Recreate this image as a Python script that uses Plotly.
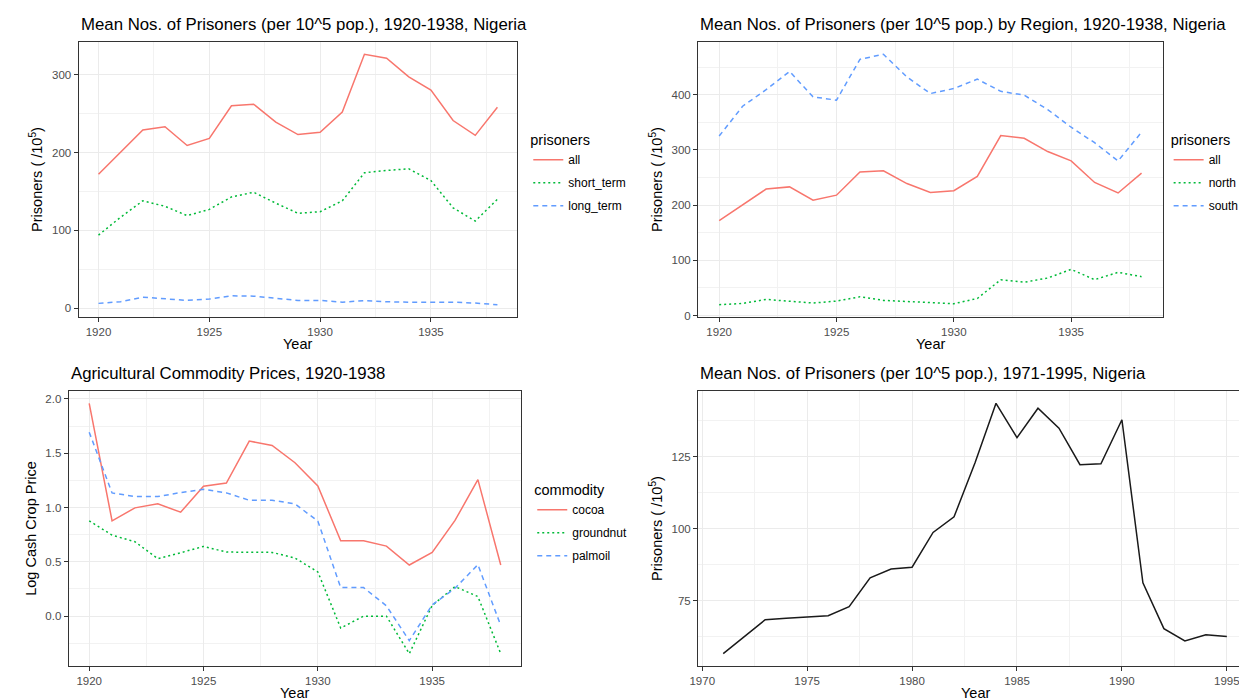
import plotly.graph_objects as go

# ---------------------------------------------------------------------------
# data
years_a = list(range(1920, 1939))

all_pris = [172, 200, 229, 233, 209, 218, 260, 262, 239, 223, 226, 252,
            326, 321, 297, 280, 241, 222, 258]
short_term = [94, 117, 138, 131, 119, 127, 143, 149, 135, 122, 124, 138,
              174, 177, 179, 164, 129, 112, 140]
long_term = [6.4, 8.5, 14.4, 12.7, 10.2, 11.9, 16.1, 15.7, 13.2, 10.2, 10.2, 8.0,
             10.0, 8.5, 8.0, 8.0, 8.0, 6.8, 4.7]

north = [19.7, 22, 29.3, 25.7, 22.7, 26.3, 34, 27.5, 25.7, 23.3, 21.5, 31,
         65, 60.4, 68, 83.7, 65, 78.3, 70.5]
south = [325, 379, 409, 442, 396, 390, 464, 473, 432, 402, 411, 428,
         406, 399, 373, 341, 313, 280, 332]

cocoa = [1.96, 0.878, 0.997, 1.034, 0.957, 1.196, 1.226, 1.612, 1.572, 1.413, 1.199,
         0.694, 0.694, 0.645, 0.471, 0.587, 0.881, 1.257, 0.471]
groundnut = [0.878, 0.746, 0.685, 0.529, 0.584, 0.642, 0.59, 0.59, 0.587, 0.535, 0.407,
             -0.11, 0.0, 0.0, -0.346, 0.098, 0.272, 0.18, -0.346]
palmoil = [1.694, 1.135, 1.101, 1.101, 1.138, 1.168, 1.135, 1.067, 1.067, 1.034, 0.875,
           0.263, 0.263, 0.095, -0.226, 0.104, 0.257, 0.474, -0.086]

years_b = list(range(1971, 1996))
pris_late = [56.6, 62.6, 68.4, 68.9, 69.4, 69.8, 72.9, 82.9, 86.0, 86.6, 98.7, 104.1,
             122.9, 143.5, 131.6, 141.8, 134.9, 122.2, 122.5, 137.8, 81.2, 65.3,
             61.0, 63.2, 62.6]

# ---------------------------------------------------------------------------
W, H = 1247, 700
FONT = "Liberation Sans"
RED, GREEN, BLUE = "#F8766D", "#00BA38", "#619CFF"
DOT = "2px,3px"
DASH = "5px,4px"


def px_x(p):
    return p / W


def px_y(p):
    return 1 - p / H


def expand(vals, frac=0.05):
    lo, hi = min(vals), max(vals)
    pad = (hi - lo) * frac
    return [lo - pad, hi + pad]


def axis_style(anchor, dom, rng, tickvals, minor_dtick, minor_tick0, title=None, fmt=None):
    d = dict(anchor=anchor, domain=dom, range=rng, tickmode="array", tickvals=tickvals,
             ticks="outside", ticklen=4, tickwidth=1, tickcolor="#333333",
             showline=True, mirror=True, linecolor="#333333", linewidth=1,
             showgrid=True, gridcolor="#EBEBEB", gridwidth=1, zeroline=False,
             tickfont=dict(family=FONT, size=11.5, color="#4D4D4D"),
             minor=dict(showgrid=True, gridcolor="#F2F2F2", gridwidth=0.6,
                        tick0=minor_tick0, dtick=minor_dtick, ticks=""))
    if fmt:
        d["tickformat"] = fmt
    if title:
        d["title"] = dict(text=title, font=dict(family=FONT, size=14.5, color="black"),
                          standoff=5)
    return d


fig = go.Figure()

# panel 1
for name, vals, col, dash in [("all", all_pris, RED, "solid"),
                              ("short_term", short_term, GREEN, DOT),
                              ("long_term", long_term, BLUE, DASH)]:
    fig.add_trace(go.Scatter(x=years_a, y=vals, mode="lines", name=name,
                             line=dict(color=col, width=1.5, dash=dash),
                             xaxis="x", yaxis="y", legend="legend",
                             legendgroup="a_" + name))

# panel 2
for name, vals, col, dash in [("all", all_pris, RED, "solid"),
                              ("north", north, GREEN, DOT),
                              ("south", south, BLUE, DASH)]:
    fig.add_trace(go.Scatter(x=years_a, y=vals, mode="lines", name=name,
                             line=dict(color=col, width=1.5, dash=dash),
                             xaxis="x2", yaxis="y2", legend="legend2",
                             legendgroup="b_" + name))

# panel 3
for name, vals, col, dash in [("cocoa", cocoa, RED, "solid"),
                              ("groundnut", groundnut, GREEN, DOT),
                              ("palmoil", palmoil, BLUE, DASH)]:
    fig.add_trace(go.Scatter(x=years_a, y=vals, mode="lines", name=name,
                             line=dict(color=col, width=1.5, dash=dash),
                             xaxis="x3", yaxis="y3", legend="legend3",
                             legendgroup="c_" + name))

# panel 4
fig.add_trace(go.Scatter(x=years_b, y=pris_late, mode="lines", showlegend=False,
                         line=dict(color="#1A1A1A", width=1.5),
                         xaxis="x4", yaxis="y4"))

ylab = "Prisoners ( /10<sup>5</sup>)"
xr_a = [1919.1, 1938.9]
xr_b = [1969.8, 1996.2]
top_dom = [px_y(311), px_y(34)]
bot_dom = [px_y(662), px_y(385)]
ticks_a = [1920, 1925, 1930, 1935]
doms = {"x": (62, 504), "x2": (686, 1154), "x3": (52, 508), "x4": (686, 1244)}

fig.update_layout(
    width=W, height=H, margin=dict(l=0, r=0, t=0, b=0),
    paper_bgcolor="white", plot_bgcolor="white",
    font=dict(family=FONT, color="black"),
    xaxis=axis_style("y", [px_x(62), px_x(504)], xr_a, ticks_a, 2.5, 1920),
    yaxis=axis_style("x", top_dom, expand(all_pris + short_term + long_term), [0, 100, 200, 300],
                     50, 0, ylab),
    xaxis2=axis_style("y2", [px_x(686), px_x(1154)], xr_a, ticks_a, 2.5, 1920),
    yaxis2=axis_style("x2", top_dom, expand(all_pris + north + south), [0, 100, 200, 300, 400],
                      50, 0, ylab),
    xaxis3=axis_style("y3", [px_x(52), px_x(508)], xr_a, ticks_a, 2.5, 1920),
    yaxis3=axis_style("x3", bot_dom, expand(cocoa + groundnut + palmoil), [0, 0.5, 1.0, 1.5, 2.0],
                      0.25, 0, "Log Cash Crop Price", fmt=".1f"),
    xaxis4=axis_style("y4", [px_x(686), px_x(1244)], xr_b, [1970, 1975, 1980, 1985, 1990, 1995],
                      2.5, 1970),
    yaxis4=axis_style("x4", bot_dom, expand(pris_late), [75, 100, 125], 12.5, 62.5, ylab),
)

leg_common = dict(xanchor="left", yanchor="top", bgcolor="rgba(0,0,0,0)",
                  font=dict(family=FONT, size=12, color="black"),
                  tracegroupgap=4, itemwidth=30)
leg_title_font = dict(family=FONT, size=14.5, color="black")
fig.update_layout(
    legend=dict(x=px_x(515), y=px_y(119),
                title=dict(text="prisoners", font=leg_title_font), **leg_common),
    legend2=dict(x=px_x(1160), y=px_y(119),
                 title=dict(text="prisoners", font=leg_title_font), **leg_common),
    legend3=dict(x=px_x(519), y=px_y(471),
                 title=dict(text="commodity", font=leg_title_font), **leg_common),
)

# panel titles
titles = [("Mean Nos. of Prisoners (per 10^5 pop.), 1920-1938, Nigeria", 62, 17),
          ("Mean Nos. of Prisoners (per 10^5 pop.) by Region, 1920-1938, Nigeria", 686, 17),
          ("Agricultural Commodity Prices, 1920-1938", 52, 368),
          ("Mean Nos. of Prisoners (per 10^5 pop.), 1971-1995, Nigeria", 686, 368)]
for txt, x, y in titles:
    fig.add_annotation(text=txt, xref="paper", yref="paper", x=px_x(x), y=px_y(y),
                       xanchor="left", yanchor="middle", showarrow=False,
                       font=dict(family=FONT, size=16.8, color="black"))

# "Year" axis titles, centred under each panel
for ax, yy in [("x", 338), ("x2", 338), ("x3", 689), ("x4", 689)]:
    x0, x1 = doms[ax]
    fig.add_annotation(text="Year", xref="paper", yref="paper", x=px_x((x0 + x1) / 2),
                       y=px_y(yy), xanchor="center", yanchor="middle", showarrow=False,
                       font=dict(family=FONT, size=14.5, color="black"))

fig.write_html("out.html")
